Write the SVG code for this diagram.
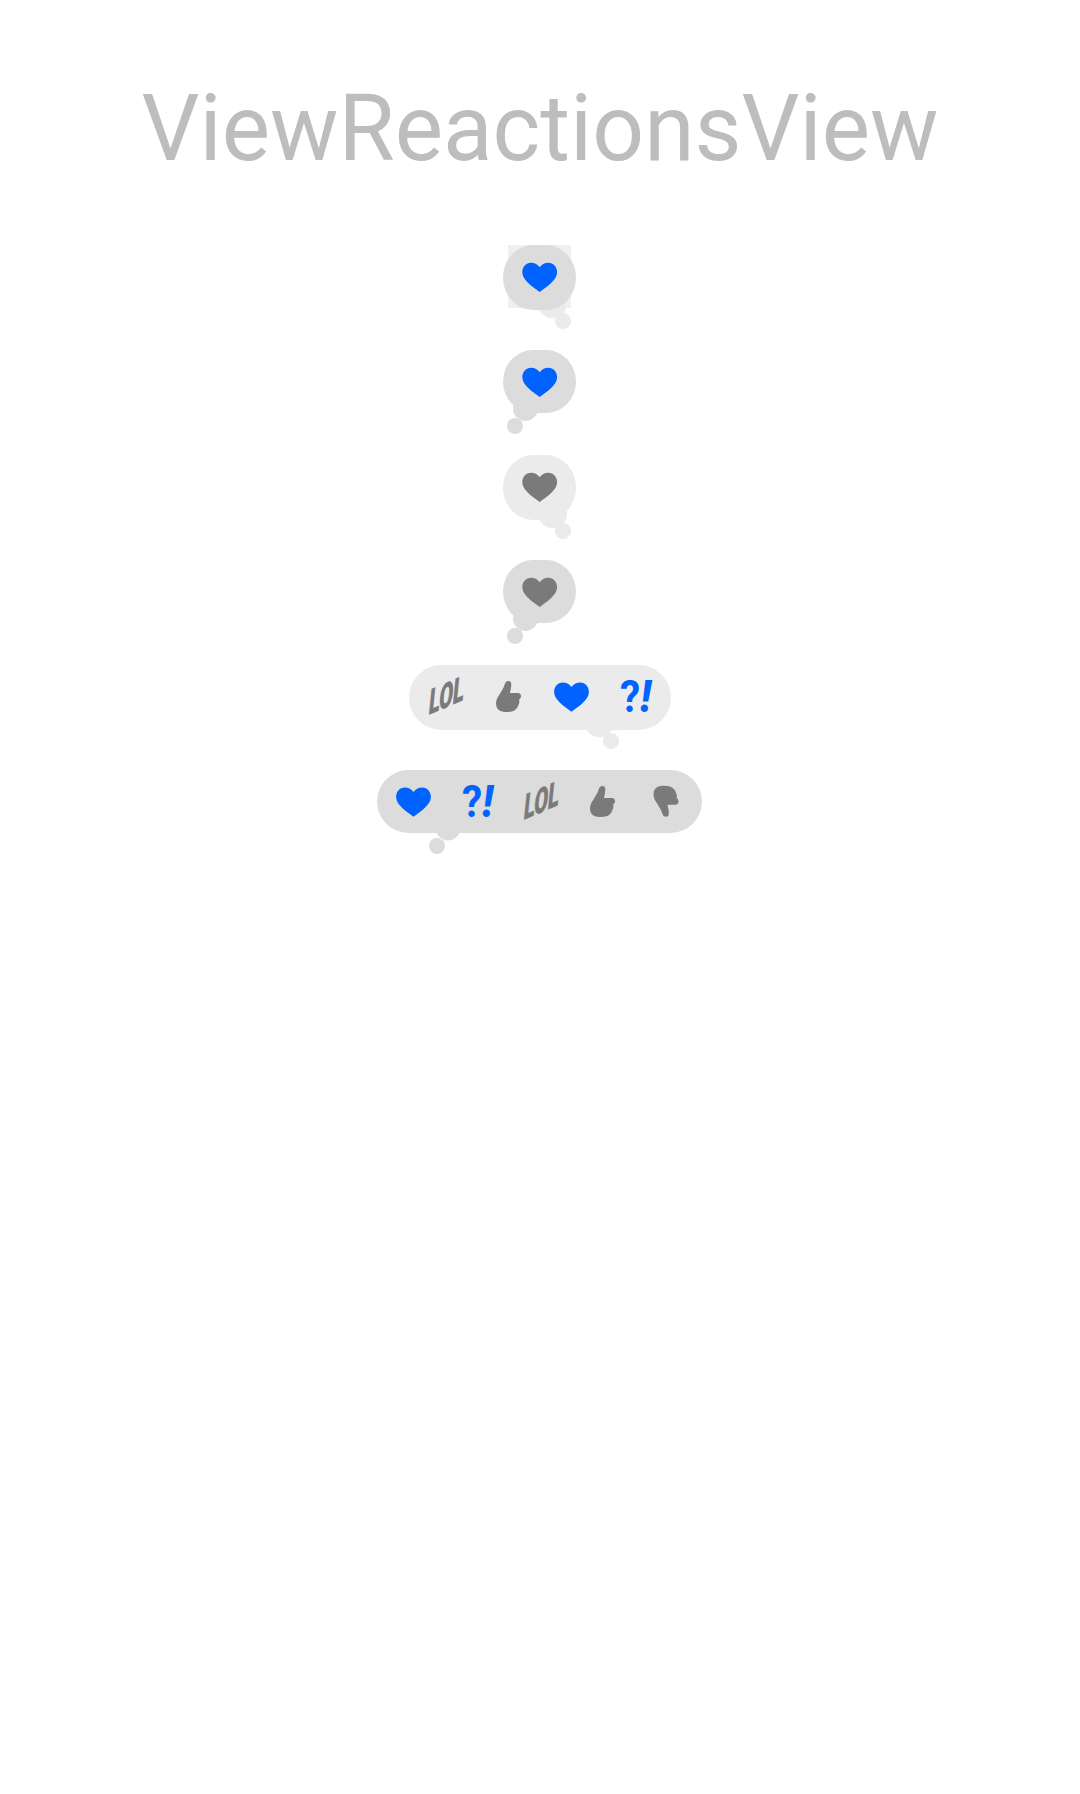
<svg xmlns="http://www.w3.org/2000/svg" width="1080" height="1794" viewBox="0 0 1080 1794">
<style>
.title{font-family:Roboto,"Liberation Sans",sans-serif;font-size:92px;font-weight:400;fill:#bdbdbd}
.dark{fill:#dcdcdc}.light{fill:#ebebeb}.sq{fill:#f0f0f0}
.blue{fill:#0062ff}.grey{fill:#7a7a7a}
.lol{font-family:Roboto,"Liberation Sans",sans-serif;font-weight:900;font-size:36px;fill:#7a7a7a;stroke:#7a7a7a;stroke-width:.5}
.qe{font-family:Roboto,"Liberation Sans",sans-serif;font-weight:700;font-size:44px;fill:#0062ff}
.it{font-style:italic;font-weight:900}
</style>
<defs>
<path id="heart" d="M0 29.3C-8 23.5-17.4 17-17.4 9.5C-17.4 4-13.5 0-8.8 0C-4.8 0-1.8 2 0 4.5C1.8 2 4.8 0 8.8 0C13.5 0 17.4 4 17.4 9.5C17.4 17 8 23.5 0 29.3Z"/>
<path id="thumb" d="M9 2.5C9.5 .8 11 0 12.5 0C14.5 0 15.3 1.3 15.3 3.5C15.3 6.5 14.5 9.5 14 12L22 12C24 12 25 13.5 25 15.2C25 16.8 24 18 23 18.6C23.7 20 23.6 22 22.6 23.4C21.8 26.5 20 29 16.5 30.2C13 31.2 8 31.3 5 30.2C1.5 29 0 26 0 22.5C0 19 1.5 16 3.5 13.5C5.5 10 8 6.5 9 2.5Z"/>
</defs>
<rect width="1080" height="1794" fill="#fff"/>
<text id="title" class="title" x="540" y="160" text-anchor="middle" textLength="797" lengthAdjust="spacingAndGlyphs">ViewReactionsView</text>
<g id="reaction-1">
<rect class="sq" x="508" y="245" width="63" height="63"/>
<circle class="light" cx="552.5" cy="303.5" r="14.5"/>
<circle class="light" cx="563" cy="321" r="8"/>
<rect class="dark" x="503" y="245" width="73" height="65" rx="30" ry="32.5"/>
<use href="#heart" class="blue" x="539.7" y="262.7"/>
</g>
<g id="reaction-2">
<circle class="dark" cx="525.5" cy="408.5" r="12.5"/>
<circle class="dark" cx="515" cy="426" r="8"/>
<rect class="dark" x="503" y="350" width="73" height="63" rx="30" ry="31.5"/>
<use href="#heart" class="blue" x="539.7" y="367.7"/>
</g>
<g id="reaction-3">
<circle class="light" cx="552.5" cy="513.5" r="14.5"/>
<circle class="light" cx="563" cy="531" r="8"/>
<rect class="light" x="503" y="455" width="73" height="65" rx="30" ry="32.5"/>
<use href="#heart" class="grey" x="539.7" y="472.7"/>
</g>
<g id="reaction-4">
<circle class="dark" cx="525.5" cy="618.5" r="12.5"/>
<circle class="dark" cx="515" cy="636" r="8"/>
<rect class="dark" x="503" y="560" width="73" height="63" rx="30" ry="31.5"/>
<use href="#heart" class="grey" x="539.7" y="577.7"/>
</g>
<g id="reaction-5">
<circle class="light" cx="599.4" cy="722.8" r="14.5"/>
<circle class="light" cx="611" cy="741" r="8"/>
<rect class="light" x="409" y="665" width="262" height="65" rx="32.5" ry="32.5"/>
<text class="lol" transform="matrix(1 -0.42 -0.1 1 428 715)" textLength="35" lengthAdjust="spacingAndGlyphs">LOL</text>
<use href="#thumb" class="grey" x="496" y="681"/>
<use href="#heart" class="blue" x="571.5" y="682.4"/>
<text class="qe" x="620" y="712" textLength="31" lengthAdjust="spacingAndGlyphs">?<tspan class="it">!</tspan></text>
</g>
<g id="reaction-6">
<circle class="dark" cx="448" cy="828" r="12.5"/>
<circle class="dark" cx="437" cy="846" r="8"/>
<rect class="dark" x="377" y="770" width="325" height="63" rx="31.5" ry="31.5"/>
<use href="#heart" class="blue" x="413.5" y="787.4"/>
<text class="qe" x="462" y="817" textLength="31" lengthAdjust="spacingAndGlyphs">?<tspan class="it">!</tspan></text>
<text class="lol" transform="matrix(1 -0.42 -0.1 1 523 820)" textLength="35" lengthAdjust="spacingAndGlyphs">LOL</text>
<use href="#thumb" class="grey" x="590" y="786"/>
<use href="#thumb" class="grey" transform="translate(653.5 816.7) scale(1 -1)"/>
</g>
</svg>
